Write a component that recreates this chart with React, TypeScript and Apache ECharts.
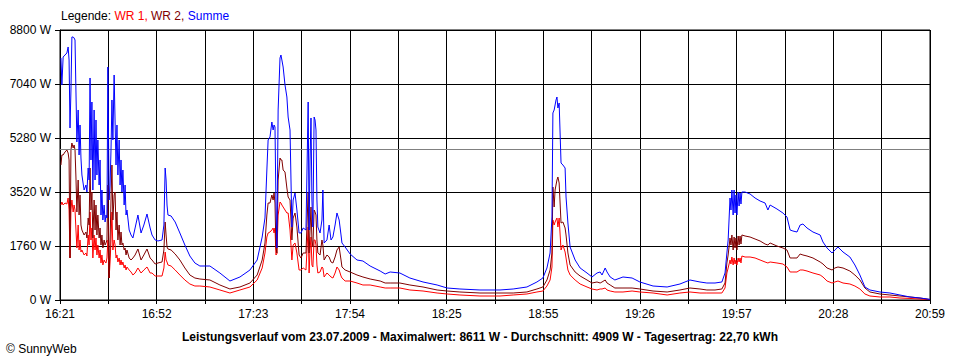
import React, { useEffect, useRef } from "react";
import * as echarts from "echarts";

// minutes after 16:21
const minutes = [
  0.3, 0.6, 1.0, 1.6, 2.2, 2.6, 2.9, 3.2, 3.5, 3.8, 4.2, 4.5, 4.8, 5.1, 5.4, 5.8, 6.1, 6.4, 6.7, 7.0,
  7.7, 8.3, 8.6, 9.0, 9.3, 9.6, 9.9, 10.2, 10.5, 10.9, 11.2, 11.5, 11.8, 12.1, 12.5, 12.8, 13.1, 13.4, 13.7, 14.1,
  14.4, 14.7, 15.0, 15.3, 15.7, 16.0, 16.3, 16.6, 16.9, 17.3, 17.6, 17.9, 18.2, 18.5, 18.9, 19.2, 19.5, 19.8, 20.1, 20.5,
  20.8, 21.1, 21.4, 22.1, 22.7, 23.3, 24.0, 24.9, 25.9, 26.8, 27.8, 28.8, 29.4, 30.4, 31.3, 32.6, 33.2, 33.6, 33.9, 34.2,
  34.5, 35.5, 36.8, 38.3, 39.9, 41.5, 43.1, 44.7, 47.9, 51.1, 54.3, 57.5, 60.7, 63.0, 64.6, 65.5, 66.1, 66.5, 67.1, 67.7,
  68.1, 68.4, 68.7, 69.0, 69.3, 69.7, 70.3, 70.6, 70.9, 71.3, 71.9, 72.5, 72.9, 73.5, 74.1, 74.5, 75.1, 75.7, 76.4, 77.0,
  77.7, 78.6, 79.3, 79.6, 79.9, 80.2, 80.5, 80.8, 81.2, 81.5, 81.8, 82.1, 82.4, 83.1, 83.7, 84.0, 84.4, 85.3, 86.0, 86.6,
  87.2, 87.9, 88.5, 89.2, 89.8, 90.1, 91.1, 92.7, 94.9, 96.8, 99.1, 102.3, 103.9, 105.5, 108.6, 111.8, 116.0, 120.5, 123.7, 127.8,
  134.2, 140.6, 144.8, 149.2, 152.4, 154.3, 155.6, 156.6, 157.2, 157.5, 157.9, 158.2, 158.5, 158.8, 159.1, 159.5, 160.1, 160.7, 161.4, 161.7,
  162.3, 163.0, 164.6, 166.2, 168.4, 170.0, 171.6, 172.6, 173.2, 174.2, 174.8, 175.8, 177.3, 179.9, 182.8, 185.3, 189.5, 194.0, 198.1, 201.3,
  204.5, 206.7, 209.3, 211.5, 212.5, 213.1, 213.5, 214.1, 214.4, 214.7, 215.1, 215.4, 215.7, 216.0, 216.3, 216.7, 217.0, 217.3, 217.6, 217.9,
  218.9, 220.5, 222.1, 223.7, 225.3, 226.2, 226.9, 229.1, 231.0, 232.3, 233.3, 234.2, 235.5, 236.5, 237.4, 238.7, 240.6, 242.9, 243.8, 245.1,
  246.7, 247.6, 248.6, 250.2, 252.4, 254.0, 255.6, 257.2, 258.8, 262.0, 265.2, 268.4, 271.6, 274.8, 278.0,
];

const summe = [
  7887, 7007, 7920, 7985, 8050, 8246, 7822, 5606, 6844, 8572, 8572, 8540, 8474, 6779, 5150, 6193, 4726, 5704, 4628, 4074,
  3585, 3748, 3520, 4302, 3911, 7236, 4563, 6453, 3585, 6193, 3911, 5867, 4074, 5215, 3748, 4563, 2770, 3585, 2607, 3096,
  2542, 2770, 2673, 7594, 3259, 3748, 4889, 6519, 5215, 7333, 5801, 4400, 5704, 4074, 5215, 3748, 4563, 3520, 4237, 3096,
  3748, 2770, 2933, 2281, 2119, 2021, 2347, 2770, 2184, 2444, 2803, 2347, 2119, 1956, 1923, 1956, 2444, 4302, 3911, 3096,
  2770, 2738, 2542, 2184, 1793, 1434, 1206, 1108, 1108, 880, 619, 750, 978, 1304, 2053, 2673, 4237, 5215, 5313, 5801,
  5541, 5704, 5639, 3259, 1700, 6193, 7887, 7985, 7822, 7594, 7007, 6616, 5964, 5541, 2379, 3259, 3487, 2933, 2184, 2184,
  2347, 2281, 6453, 2281, 4563, 5932, 3259, 2379, 5964, 5867, 5541, 3259, 2379, 2184, 2607, 3585, 1858, 1956, 2444, 1956,
  2053, 2444, 2836, 2607, 2119, 1858, 1727, 1499, 1304, 1271, 1108, 945, 847, 913, 880, 717, 587, 489, 391, 359,
  326, 326, 359, 424, 587, 717, 1043, 1532, 2705, 6095, 6193, 6356, 6519, 6616, 6258, 6421, 4465, 4400, 4302, 3357,
  2510, 1727, 1304, 1043, 880, 750, 880, 913, 815, 1043, 913, 750, 652, 750, 717, 587, 456, 424, 521, 652,
  587, 554, 554, 587, 880, 1532, 1956, 3324, 2933, 3585, 2770, 3585, 2836, 3422, 2770, 3520, 3063, 3487, 3129, 3520,
  3520, 3455, 3324, 3227, 3161, 2933, 3096, 2966, 2836, 2705, 2281, 2249, 2216, 2444, 2477, 2347, 2216, 2119, 1890, 1695,
  1532, 1630, 1727, 1564, 1401, 1141, 815, 424, 326, 261, 228, 163, 98, 65, 20,
];

const wr2 = [
  4400, 4726, 4726, 4824, 4889, 4791, 4563, 1369, 4889, 5117, 4954, 5052, 4889, 3976, 2868, 3911, 2770, 3422, 2444, 2281,
  2119, 2216, 2021, 2673, 2444, 4302, 2933, 3520, 2021, 3259, 2281, 3096, 2119, 2770, 2021, 2347, 1793, 2119, 1695, 1956,
  1793, 1858, 1956, 3748, 717, 1956, 3259, 4400, 2607, 3422, 3520, 2281, 2868, 1956, 2444, 1793, 2216, 1793, 1858, 1630,
  1695, 1467, 1630, 1369, 1304, 1369, 1467, 1662, 1304, 1467, 1662, 1369, 1304, 1173, 1206, 1239, 1630, 2542, 2119, 1727,
  1662, 1630, 1499, 1304, 1043, 815, 717, 684, 652, 489, 359, 424, 554, 815, 1304, 1858, 2770, 3161, 3161, 3422,
  3259, 3487, 3161, 1727, 1530, 3911, 4628, 4563, 4563, 4237, 4172, 3650, 3357, 3259, 1956, 2673, 2836, 2379, 1467, 1369,
  1532, 1532, 3520, 1532, 2281, 3031, 1956, 1727, 2933, 2868, 2770, 1956, 1532, 1467, 1956, 1793, 1304, 1467, 1401, 1239,
  1206, 1401, 1630, 1727, 1304, 1076, 978, 913, 815, 750, 684, 619, 554, 554, 554, 489, 424, 326, 293, 261,
  228, 228, 228, 261, 359, 424, 652, 978, 1532, 3683, 3031, 3585, 3748, 3911, 4009, 3813, 2510, 2542, 2347, 2119,
  1532, 1141, 913, 782, 652, 554, 587, 554, 587, 652, 554, 489, 391, 391, 391, 359, 293, 261, 326, 391,
  359, 326, 326, 359, 554, 1206, 1467, 2021, 1793, 2119, 1630, 2053, 1695, 2021, 1630, 2086, 1793, 2086, 1825, 2119,
  2086, 2053, 1988, 1923, 1825, 1793, 1858, 1760, 1695, 1630, 1369, 1369, 1369, 1499, 1467, 1434, 1369, 1239, 1173, 1043,
  978, 1043, 1076, 1043, 945, 815, 652, 391, 261, 196, 163, 130, 98, 65, 15,
];

const wr1 = [
  3096, 3194, 3096, 3161, 3129, 3324, 2933, 1369, 2933, 3259, 2868, 3096, 2933, 2281, 1695, 2444, 1630, 1956, 1564, 1630,
  1467, 1532, 1434, 2119, 1793, 2868, 1956, 2347, 1369, 2119, 1630, 2021, 1467, 1793, 1369, 1630, 1206, 1467, 1141, 1304,
  1239, 1206, 1369, 1956, 717, 1239, 1956, 2868, 1630, 1956, 1793, 1369, 1467, 1239, 1369, 1141, 1304, 1141, 1239, 1043,
  1141, 978, 1076, 978, 913, 815, 880, 1043, 880, 978, 1076, 880, 880, 782, 782, 782, 1043, 1564, 1304, 1239,
  1141, 1108, 978, 815, 652, 521, 456, 456, 424, 326, 228, 326, 424, 652, 1043, 1532, 2053, 2184, 2216, 2281,
  2347, 2184, 2347, 1467, 1500, 2770, 3194, 3161, 3096, 3031, 2933, 2836, 2836, 2281, 1304, 1793, 1858, 1532, 978, 978,
  1043, 978, 2379, 880, 1630, 2053, 1141, 1076, 1956, 1956, 1793, 1141, 880, 913, 1076, 1043, 750, 880, 815, 750,
  717, 880, 1076, 978, 782, 717, 619, 619, 554, 489, 489, 424, 391, 391, 391, 326, 293, 228, 196, 163,
  130, 130, 163, 196, 261, 293, 456, 652, 1076, 2607, 2444, 2542, 2607, 2673, 2379, 2673, 1630, 1793, 1564, 1369,
  978, 815, 652, 521, 424, 359, 326, 359, 359, 391, 326, 293, 261, 261, 293, 261, 228, 163, 228, 261,
  228, 228, 228, 228, 391, 880, 1043, 1304, 1173, 1401, 1141, 1369, 1173, 1304, 1141, 1369, 1239, 1369, 1206, 1434,
  1401, 1401, 1369, 1304, 1239, 1206, 1239, 1206, 1173, 1076, 913, 913, 913, 978, 978, 945, 880, 815, 750, 619,
  554, 587, 619, 554, 521, 456, 359, 196, 130, 98, 98, 65, 50, 33, 10,
];

const xTickLabels = ["16:21", "16:52", "17:23", "17:54", "18:25", "18:55", "19:26", "19:57", "20:28", "20:59"];
const totalMinutes = 278;
const yMax = 8800;
const yStep = 1760;
const average = 4909;

const seriesNames = ["WR 1", "WR 2", "Summe"];
const seriesColors = ["#ff0000", "#800000", "#0000ff"];

const titleText =
  "Leistungsverlauf vom 23.07.2009 - Maximalwert: 8611 W - Durchschnitt: 4909 W - Tagesertrag: 22,70 kWh";

const FONT = "'Liberation Sans', Arial, sans-serif";

export default function App() {
  const ref = useRef<HTMLDivElement>(null);

  useEffect(() => {
    if (!ref.current) return;
    const chart = echarts.init(ref.current, undefined, { renderer: "svg" });
    const xStep = totalMinutes / 18;
    const valueSets = [wr1, wr2, summe];

    const series: any[] = valueSets.map((vals, si) => ({
      name: seriesNames[si],
      type: "line",
      data: minutes.map((m, i) => [m, vals[i]]),
      showSymbol: false,
      symbol: "none",
      sampling: undefined,
      lineStyle: { color: seriesColors[si], width: 1 },
      itemStyle: { color: seriesColors[si] },
      z: 3 + si,
    }));
    series.push({
      name: "avg",
      type: "line",
      data: [],
      z: 2,
      markLine: {
        silent: true,
        symbol: ["none", "none"],
        label: { show: false },
        lineStyle: { color: "#808080", type: "solid", width: 1 },
        data: [{ yAxis: average }],
      },
    });

    chart.setOption({
      animation: false,
      backgroundColor: "#ffffff",
      grid: {
        left: 60,
        right: 30,
        top: 30,
        bottom: 60,
        show: true,
        borderColor: "#000",
        borderWidth: 1,
        backgroundColor: "transparent",
      },
      xAxis: {
        type: "value",
        min: 0,
        max: totalMinutes,
        interval: xStep,
        axisLine: { show: true, lineStyle: { color: "#000", width: 1 } },
        axisTick: { show: true, length: 4, lineStyle: { color: "#000" } },
        splitLine: { show: true, lineStyle: { color: "#000", width: 1 } },
        axisLabel: {
          margin: 8,
          color: "#000",
          fontFamily: FONT,
          fontSize: 12,
          showMinLabel: true,
          showMaxLabel: true,
          formatter: (v: number) => {
            const i = Math.round(v / xStep);
            if (i % 2 !== 0) return "";
            return xTickLabels[i / 2] ?? "";
          },
        },
      },
      yAxis: {
        type: "value",
        min: 0,
        max: yMax,
        interval: yStep,
        axisLine: { show: true, lineStyle: { color: "#000", width: 1 } },
        axisTick: { show: true, length: 5, lineStyle: { color: "#000" } },
        splitLine: { show: true, lineStyle: { color: "#000", width: 1 } },
        axisLabel: {
          margin: 9,
          color: "#000",
          fontFamily: FONT,
          fontSize: 12,
          formatter: (v: number) => `${v} W`,
        },
      },
      graphic: [
        {
          type: "text",
          left: 61,
          top: 10,
          style: {
            text: "{a|Legende: }{b|WR 1,} {c|WR 2,} {d|Summe}",
            font: `12px ${FONT}`,
            rich: {
              a: { fill: "#000", fontFamily: FONT, fontSize: 12 },
              b: { fill: "#ff0000", fontFamily: FONT, fontSize: 12 },
              c: { fill: "#800000", fontFamily: FONT, fontSize: 12 },
              d: { fill: "#0000ff", fontFamily: FONT, fontSize: 12 },
            },
          },
        },
        {
          type: "text",
          x: 480,
          y: 337,
          style: {
            text: titleText,
            fill: "#000",
            font: `bold 12px ${FONT}`,
            textAlign: "center",
            textVerticalAlign: "middle",
          },
        },
        {
          type: "text",
          x: 6,
          y: 349,
          style: {
            text: "© SunnyWeb",
            fill: "#000",
            font: `12px ${FONT}`,
            textAlign: "left",
            textVerticalAlign: "middle",
          },
        },
      ],
      series,
    });

    return () => chart.dispose();
  }, []);

  return (
    <div
      ref={ref}
      style={{ position: "fixed", left: 0, top: 0, width: 960, height: 360, background: "#fff" }}
    />
  );
}
